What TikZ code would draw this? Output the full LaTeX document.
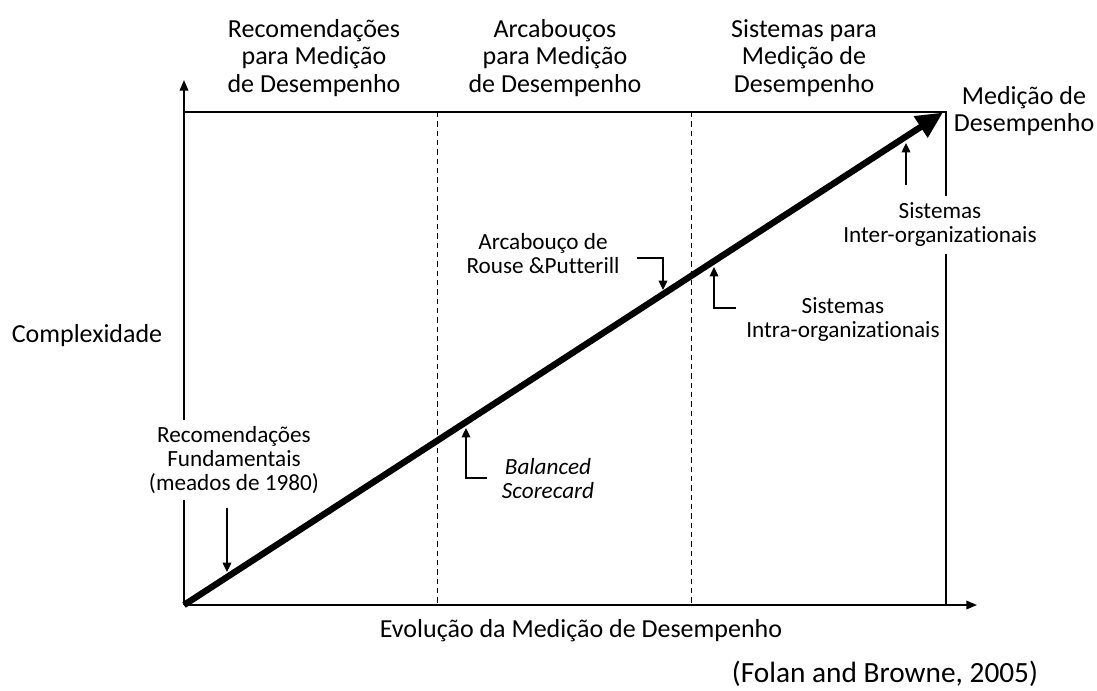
\documentclass[tikz,border=0pt]{standalone}
\usepackage{fontspec}
\setmainfont{Carlito}[Ligatures={NoCommon}]
\usetikzlibrary{arrows.meta}
\begin{document}
\begin{tikzpicture}[x=0.75pt,y=-0.75pt,
  big/.style={font=\fontsize{19.5}{20.6}\selectfont, align=center, inner sep=0pt},
  small/.style={font=\fontsize{17.4}{18}\selectfont, align=center, inner sep=1pt},
  axis/.style={line width=1.1pt, -{Triangle[length=8pt,width=6.5pt]}},
  frame/.style={line width=1.5pt},
  divider/.style={line width=0.75pt, dash pattern=on 4pt off 3pt},
  pointer/.style={line width=1pt, -{Triangle[length=7pt,width=6.5pt]}},
  trend/.style={line width=4.8pt, -{Triangle[length=20pt,width=18pt]}},
  cover/.style={fill=white, inner xsep=3pt, inner ysep=5pt}
]
\useasboundingbox (0,0) rectangle (1097,690);
% frame coordinates
\coordinate (O) at (184,605);
\coordinate (Ytip) at (184,80);
\coordinate (Xtip) at (977,605);
\coordinate (TL) at (184,112);
\coordinate (TR) at (946,112);
\coordinate (BR) at (946,605);
\coordinate (D1t) at (437.5,112);
\coordinate (D1b) at (437.5,605);
\coordinate (D2t) at (691,112);
\coordinate (D2b) at (691,605);
\coordinate (Tend) at (943,112.5);
% frame and dividers
\draw[divider] (D1t) -- (D1b);
\draw[divider] (D2t) -- (D2b);
\draw[frame] (TL) -- (TR) -- (BR);
\draw[axis] (O) -- (Ytip);
\draw[axis] (O) -- (Xtip);
\draw[trend] (O) -- (Tend);
% column headings
\node[big] (h1) at (314,58) {Recomendações\\para Medição\\de Desempenho};
\node[big] (h2) at (555,58) {Arcabouços\\para Medição\\de Desempenho};
\node[big] (h3) at (804,58) {Sistemas para\\Medição de\\Desempenho};
\node[big] (goal) at (1024,111) {Medição de\\Desempenho};
% axis labels
\node[big] (ylab) at (87,336) {Complexidade};
\node[big] (xlab) at (581,631) {Evolução da Medição de Desempenho};
\node[big, font=\fontsize{22}{23}\selectfont] (src) at (885,674) {(Folan and Browne, 2005)};
% milestone labels
\node[small, cover] (fund) at (234,460) {Recomendações\\Fundamentais\\(meados de 1980)};
\node[small, font=\fontsize{17.4}{18}\selectfont\itshape] (bsc) at (548,479) {Balanced\\Scorecard};
\node[small] (rouse) at (543,254) {Arcabouço de\\Rouse \&Putterill};
\node[small] (intra) at (843,320) {Sistemas\\Intra-organizationais};
\node[small, cover] (inter) at (940,225) {Sistemas\\Inter-organizationais};
% pointers
\coordinate (p1s) at (227,508);
\coordinate (p1e) at (227,572);
\draw[pointer] (p1s) -- (p1e);
\coordinate (p2s) at (487,478);
\coordinate (p2c) at (466,478);
\coordinate (p2e) at (466,428);
\draw[pointer] (p2s) -- (p2c) -- (p2e);
\coordinate (p3s) at (637,258);
\coordinate (p3c) at (663,258);
\coordinate (p3e) at (663,290);
\draw[pointer] (p3s) -- (p3c) -- (p3e);
\coordinate (p4s) at (736,308);
\coordinate (p4c) at (714,308);
\coordinate (p4e) at (714,267);
\draw[pointer] (p4s) -- (p4c) -- (p4e);
\coordinate (p5s) at (906,185);
\coordinate (p5e) at (906,143);
\draw[pointer] (p5s) -- (p5e);
\end{tikzpicture}
\end{document}
